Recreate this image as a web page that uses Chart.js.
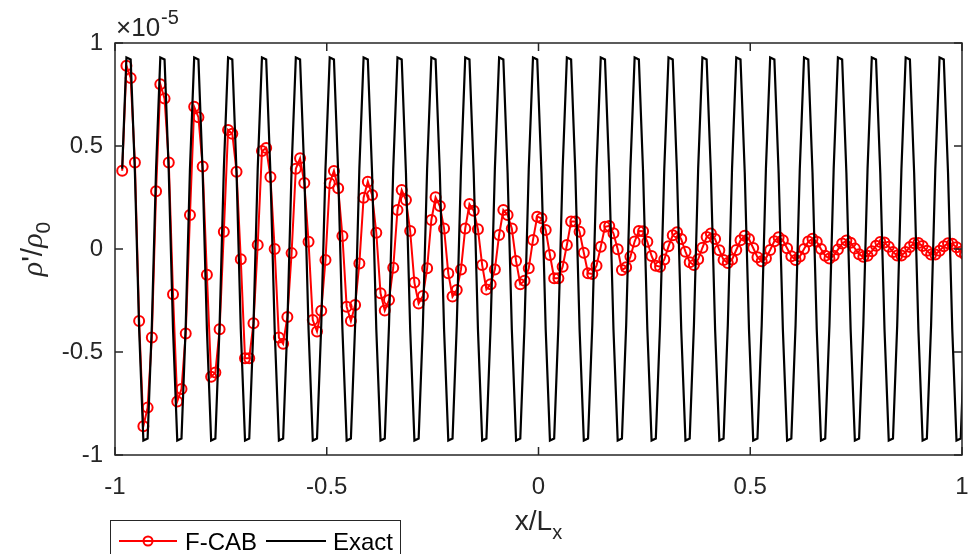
<!DOCTYPE html>
<html>
<head>
<meta charset="utf-8">
<script src="https://cdn.jsdelivr.net/npm/chart.js@4.4.0/dist/chart.umd.min.js"></script>
<style>
  html, body { margin: 0; padding: 0; background: #fff; }
  #wrap { width: 969px; height: 554px; }
</style>
</head>
<body>
<div id="wrap"><canvas id="c" width="969" height="554"></canvas></div>
<script>
// grid of the solution (x/Lx), 200 cells
const xStart = -0.983;
const xStep = 0.01;

// rho'/rho0 in units of 1e-5
const fcab = [
  0.38, 0.89, 0.83, 0.42, -0.35, -0.86, -0.77, -0.43,
  0.28, 0.80, 0.73, 0.42, -0.22, -0.74, -0.68, -0.41,
  0.165, 0.69, 0.64, 0.40, -0.125, -0.62, -0.60, -0.39,
  0.084, 0.578, 0.56, 0.375, -0.05, -0.53, -0.53, -0.36,
  0.02, 0.476, 0.49, 0.35, 0.0, -0.43, -0.46, -0.33,
  -0.02, 0.39, 0.44, 0.32, 0.035, -0.345, -0.40, -0.30,
  -0.053, 0.319, 0.379, 0.295, 0.063, -0.28, -0.35, -0.272,
  -0.07, 0.249, 0.327, 0.262, 0.079, -0.215, -0.299, -0.248,
  -0.091, 0.189, 0.286, 0.238, 0.087, -0.163, -0.264, -0.228,
  -0.094, 0.141, 0.251, 0.209, 0.100, -0.118, -0.231, -0.199,
  -0.099, 0.100, 0.218, 0.186, 0.096, -0.078, -0.196, -0.171,
  -0.099, 0.068, 0.189, 0.165, 0.100, -0.058, -0.171, -0.154,
  -0.094, 0.044, 0.157, 0.149, 0.092, -0.029, -0.142, -0.142,
  -0.086, 0.019, 0.133, 0.133, 0.084, -0.018, -0.118, -0.121,
  -0.081, 0.011, 0.108, 0.112, 0.076, -0.001, -0.102, -0.089,
  -0.037, 0.036, 0.087, 0.086, 0.035, -0.034, -0.081, -0.086,
  -0.051, 0.013, 0.067, 0.081, 0.048, -0.013, -0.064, -0.078,
  -0.050, 0.006, 0.058, 0.075, 0.048, -0.006, -0.053, -0.068,
  -0.051, -0.005, 0.042, 0.064, 0.048, 0.005, -0.040, -0.060,
  -0.045, -0.005, 0.038, 0.057, 0.043, 0.004, -0.035, -0.053,
  -0.037, 0.0, 0.036, 0.050, 0.035, 0.0, -0.033, -0.046,
  -0.033, -0.003, 0.027, 0.041, 0.030, 0.003, -0.025, -0.038,
  -0.033, -0.011, 0.016, 0.034, 0.031, 0.011, -0.015, -0.032,
  -0.031, -0.015, 0.010, 0.028, 0.029, 0.014, -0.009, -0.027,
  -0.027, -0.009, 0.013, 0.028, 0.026, 0.009, -0.013, -0.027
];

const exact = [
  0.39, 0.93, 0.92, 0.37, -0.39, -0.93, -0.92, -0.37,
  0.39, 0.93, 0.92, 0.37, -0.39, -0.93, -0.92, -0.37,
  0.39, 0.93, 0.92, 0.37, -0.39, -0.93, -0.92, -0.37,
  0.39, 0.93, 0.92, 0.37, -0.39, -0.93, -0.92, -0.37,
  0.39, 0.93, 0.92, 0.37, -0.39, -0.93, -0.92, -0.37,
  0.39, 0.93, 0.92, 0.37, -0.39, -0.93, -0.92, -0.37,
  0.39, 0.93, 0.92, 0.37, -0.39, -0.93, -0.92, -0.37,
  0.39, 0.93, 0.92, 0.37, -0.39, -0.93, -0.92, -0.37,
  0.39, 0.93, 0.92, 0.37, -0.39, -0.93, -0.92, -0.37,
  0.39, 0.93, 0.92, 0.37, -0.39, -0.93, -0.92, -0.37,
  0.39, 0.93, 0.92, 0.37, -0.39, -0.93, -0.92, -0.37,
  0.39, 0.93, 0.92, 0.37, -0.39, -0.93, -0.92, -0.37,
  0.39, 0.93, 0.92, 0.37, -0.39, -0.93, -0.92, -0.37,
  0.39, 0.93, 0.92, 0.37, -0.39, -0.93, -0.92, -0.37,
  0.39, 0.93, 0.92, 0.37, -0.39, -0.93, -0.92, -0.37,
  0.39, 0.93, 0.92, 0.37, -0.39, -0.93, -0.92, -0.37,
  0.39, 0.93, 0.92, 0.37, -0.39, -0.93, -0.92, -0.37,
  0.39, 0.93, 0.92, 0.37, -0.39, -0.93, -0.92, -0.37,
  0.39, 0.93, 0.92, 0.37, -0.39, -0.93, -0.92, -0.37,
  0.39, 0.93, 0.92, 0.37, -0.39, -0.93, -0.92, -0.37,
  0.39, 0.93, 0.92, 0.37, -0.39, -0.93, -0.92, -0.37,
  0.39, 0.93, 0.92, 0.37, -0.39, -0.93, -0.92, -0.37,
  0.39, 0.93, 0.92, 0.37, -0.39, -0.93, -0.92, -0.37,
  0.39, 0.93, 0.92, 0.37, -0.39, -0.93, -0.92, -0.37,
  0.39, 0.93, 0.92, 0.37, -0.39, -0.93, -0.92, -0.37
];

const xTicks = [-1, -0.5, 0, 0.5, 1];
const yTicks = [-1, -0.5, 0, 0.5, 1];

const AXIS = "#262626";
const FONT = "'Liberation Sans', Arial, Helvetica, sans-serif";

const xs = fcab.map((_, i) => +(xStart + i * xStep).toFixed(3));
const fcabPts = xs.map((x, i) => ({ x: x, y: fcab[i] }));
const exactPts = xs.map((x, i) => ({ x: x, y: exact[i] }));

// box, inward ticks, axis titles, exponent and legend (MATLAB look)
const decor = {
    id: "decor",
    afterDraw(chart) {
        const ctx = chart.ctx;
        const { left, right, top, bottom } = chart.chartArea;
        const sx = chart.scales.x, sy = chart.scales.y;
        ctx.save();

        ctx.strokeStyle = AXIS;
        ctx.lineWidth = 1.5;
        ctx.strokeRect(left, top, right - left, bottom - top);

        const tl = 8;
        ctx.beginPath();
        xTicks.forEach(v => {
            const p = sx.getPixelForValue(v);
            ctx.moveTo(p, bottom); ctx.lineTo(p, bottom - tl);
            ctx.moveTo(p, top); ctx.lineTo(p, top + tl);
        });
        yTicks.forEach(v => {
            const p = sy.getPixelForValue(v);
            ctx.moveTo(left, p); ctx.lineTo(left + tl, p);
            ctx.moveTo(right, p); ctx.lineTo(right - tl, p);
        });
        ctx.stroke();

        // x 10^-5
        ctx.fillStyle = AXIS;
        ctx.textBaseline = "alphabetic";
        ctx.textAlign = "left";
        ctx.font = "26px " + FONT;
        ctx.fillText("\u00d710", left + 1, 36);
        const w10 = ctx.measureText("\u00d710").width;
        ctx.font = "20px " + FONT;
        ctx.fillText("-5", left + 1 + w10 + 1, 24);

        // x label: x/L_x
        ctx.font = "28px " + FONT;
        const main = "x/L";
        const mw = ctx.measureText(main).width;
        ctx.font = "20px " + FONT;
        const sw = ctx.measureText("x").width;
        const cx = (left + right) / 2;
        const x0 = cx - (mw + sw) / 2;
        ctx.font = "28px " + FONT;
        ctx.fillText(main, x0, 530);
        ctx.font = "20px " + FONT;
        ctx.fillText("x", x0 + mw, 539);

        // y label: rho'/rho_0 (rotated)
        ctx.save();
        ctx.translate(42, (top + bottom) / 2);
        ctx.rotate(-Math.PI / 2);
        const parts = [
            { t: "\u03c1", f: "italic 30px 'Liberation Serif', serif", dy: 0 },
            { t: "'/", f: "30px " + FONT, dy: 0 },
            { t: "\u03c1", f: "italic 30px 'Liberation Serif', serif", dy: 0 },
            { t: "0", f: "21px " + FONT, dy: 8 }
        ];
        let total = 0;
        parts.forEach(p => { ctx.font = p.f; p.w = ctx.measureText(p.t).width; total += p.w; });
        let px = -total / 2;
        parts.forEach(p => { ctx.font = p.f; ctx.fillText(p.t, px, p.dy); px += p.w; });
        ctx.restore();

        // legend
        const lx = 110.5, ly = 520.5, lw = 290, lh = 40;
        ctx.fillStyle = "#fff";
        ctx.fillRect(lx, ly, lw, lh);
        ctx.strokeStyle = AXIS;
        ctx.lineWidth = 1;
        ctx.strokeRect(lx, ly, lw, lh);
        const ds = chart.data.datasets;
        const rowY = 541;
        // F-CAB
        ctx.strokeStyle = ds[0].borderColor;
        ctx.lineWidth = 2;
        ctx.beginPath(); ctx.moveTo(119, rowY); ctx.lineTo(177, rowY); ctx.stroke();
        ctx.beginPath(); ctx.arc(148, rowY, 4.5, 0, Math.PI * 2); ctx.stroke();
        ctx.fillStyle = "#000";
        ctx.font = "24px " + FONT;
        ctx.fillText(ds[0].label, 185, 550);
        // Exact
        ctx.strokeStyle = ds[1].borderColor;
        ctx.beginPath(); ctx.moveTo(266, rowY); ctx.lineTo(326, rowY); ctx.stroke();
        ctx.fillText(ds[1].label, 333, 550);

        ctx.restore();
    }
};

new Chart(document.getElementById("c"), {
    type: "line",
    data: {
        datasets: [
            {
                label: "F-CAB",
                data: fcabPts,
                borderColor: "#ff0000",
                borderWidth: 2,
                pointRadius: 5,
                pointBorderWidth: 2,
                pointBorderColor: "#ff0000",
                pointBackgroundColor: "rgba(0,0,0,0)",
                tension: 0,
                order: 1
            },
            {
                label: "Exact",
                data: exactPts,
                borderColor: "#000000",
                borderWidth: 2.2,
                pointRadius: 0,
                tension: 0,
                order: 0
            }
        ]
    },
    options: {
        responsive: false,
        animation: false,
        devicePixelRatio: 1,
        layout: { padding: { top: 43, right: 2, left: 0, bottom: 0 } },
        plugins: {
            legend: { display: false },
            tooltip: { enabled: false }
        },
        scales: {
            x: {
                type: "linear",
                min: -1, max: 1,
                grid: { display: false, drawTicks: false },
                border: { display: false },
                ticks: {
                    stepSize: 0.5,
                    maxRotation: 0,
                    padding: 18,
                    color: AXIS,
                    font: { family: FONT, size: 24 },
                    callback: v => String(v)
                },
                afterFit(scale) { scale.height = 99; scale.paddingLeft = 0; scale.paddingRight = 0; }
            },
            y: {
                min: -1, max: 1,
                grid: { display: false, drawTicks: false },
                border: { display: false },
                ticks: {
                    stepSize: 0.5,
                    padding: 12,
                    color: AXIS,
                    font: { family: FONT, size: 24 },
                    callback: v => String(v)
                },
                afterFit(scale) { scale.width = 115; scale.paddingTop = 0; scale.paddingBottom = 0; }
            }
        }
    },
    plugins: [decor]
});
</script>
</body>
</html>
